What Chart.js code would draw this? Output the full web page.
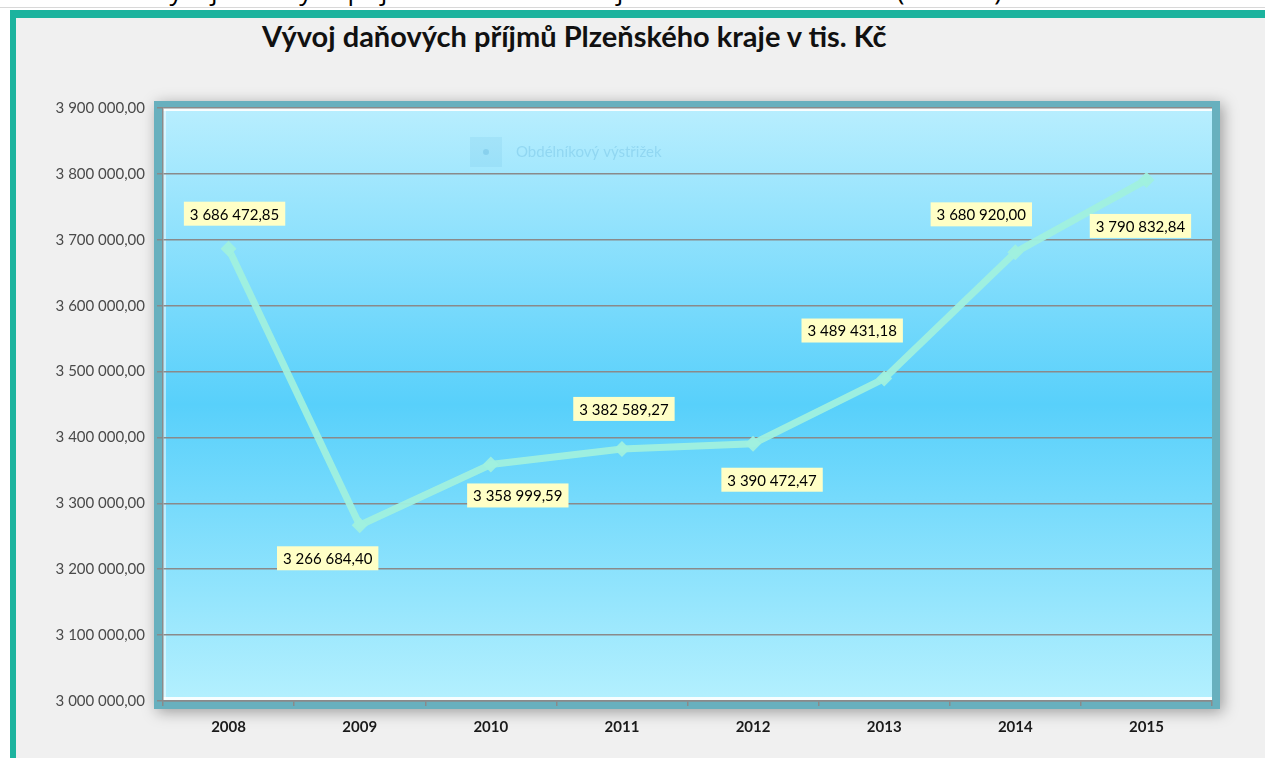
<!DOCTYPE html>
<html>
<head>
<meta charset="utf-8">
<script src="https://cdn.jsdelivr.net/npm/chart.js@4.4.1/dist/chart.umd.min.js"></script>
<style>
  html, body { margin: 0; padding: 0; background: #fff; overflow: hidden; }
  #page { position: relative; width: 1265px; height: 758px; }
  #cut { position: absolute; left: 0; top: 0; width: 1265px; height: 7px; overflow: hidden; border-bottom: 1px solid #d8d8d8; }
  #cut span { position: absolute; left: 40px; top: -28px; font: 26px "Open Sans", sans-serif; color: #000; white-space: nowrap; }
  #frame { position: absolute; left: 10px; top: 10px; right: 0; bottom: 0; background: #f0f0f0; border-top: 8px solid #1cb39e; border-left: 6px solid #1cb39e; }
  #title { position: absolute; left: 262px; top: 18px; font: bold 29px Lato, sans-serif; color: #111; white-space: nowrap; }
  canvas { position: absolute; left: 0; top: 0; }
</style>
</head>
<body>
<div id="page">
  <div id="cut"><span>Graf č. 1: Vývoj daňových příjmů Plzeňského kraje v letech 2008 – 2015 (v tis. Kč)</span></div>
  <div id="frame"></div>
  <div id="title">Vývoj daňových příjmů Plzeňského kraje v tis. Kč</div>
  <canvas id="chart" width="1265" height="758"></canvas>
</div>
<script>
// chart data
const years = ['2008', '2009', '2010', '2011', '2012', '2013', '2014', '2015'];
const income = [3686472.85, 3266684.40, 3358999.59, 3382589.27, 3390472.47, 3489431.18, 3680920.00, 3790832.84];
const yMin = 3000000;
const yMax = 3900000;
const yStep = 100000;

// where each value label sits relative to its point (dx, dy)
const labelOffsets = [[6, -35], [-32, 33], [27, 31], [2, -40], [19, 36], [-32, -48], [-34, -38], [-6, 46]];

const fmt = (v) => {
  const parts = v.toFixed(2).split('.');
  return parts[0].replace(/\B(?=(\d{3})+(?!\d))/g, ' ') + ',' + parts[1];
};

// plot background: framed panel with a blue gradient
const plotBackground = {
  id: 'plotBackground',
  beforeDraw(chart) {
    const { ctx, chartArea: a } = chart;
    ctx.save();
    ctx.shadowColor = 'rgba(0,0,0,0.35)';
    ctx.shadowBlur = 14;
    ctx.shadowOffsetX = 3;
    ctx.shadowOffsetY = 3;
    ctx.fillStyle = '#68b0be';
    ctx.fillRect(a.left - 9, a.top - 7, a.right - a.left + 17, a.bottom - a.top + 15);
    ctx.restore();

    ctx.save();
    const g = ctx.createLinearGradient(0, a.top, 0, a.bottom);
    g.addColorStop(0, '#b8eefe');
    g.addColorStop(0.5, '#58d0fb');
    g.addColorStop(1, '#b4f0fe');
    ctx.fillStyle = g;
    ctx.fillRect(a.left, a.top, a.right - a.left, a.bottom - a.top);
    ctx.fillStyle = 'rgba(255,255,255,0.9)';
    ctx.fillRect(a.left, a.top, a.right - a.left, 3);
    ctx.fillRect(a.left, a.bottom - 4, a.right - a.left, 4);
    ctx.fillStyle = 'rgba(255,255,255,0.5)';
    ctx.fillRect(a.left, a.top, 3, a.bottom - a.top);

    // faint leftover legend ("Obdélníkový výstřižek")
    ctx.fillStyle = 'rgba(80,170,210,0.12)';
    ctx.fillRect(470, 137, 32, 30);
    ctx.fillStyle = 'rgba(60,150,200,0.22)';
    ctx.beginPath();
    ctx.arc(486, 152, 3, 0, Math.PI * 2);
    ctx.fill();
    ctx.font = '15px Lato, sans-serif';
    ctx.textBaseline = 'middle';
    ctx.fillText('Obdélníkový výstřižek', 516, 152);
    ctx.restore();
  }
};

// yellow value labels
const valueLabels = {
  id: 'valueLabels',
  afterDatasetsDraw(chart) {
    const { ctx } = chart;
    const meta = chart.getDatasetMeta(0);
    ctx.save();
    ctx.font = '15px Lato, sans-serif';
    ctx.textAlign = 'center';
    ctx.textBaseline = 'middle';
    meta.data.forEach((pt, i) => {
      const txt = fmt(income[i]);
      const w = ctx.measureText(txt).width + 12;
      const h = 24;
      const cx = pt.x + labelOffsets[i][0];
      const cy = pt.y + labelOffsets[i][1];
      ctx.fillStyle = '#ffffc6';
      ctx.fillRect(cx - w / 2, cy - h / 2, w, h);
      ctx.fillStyle = '#000';
      ctx.fillText(txt, cx, cy + 1);
    });
    ctx.restore();
  }
};

new Chart(document.getElementById('chart').getContext('2d'), {
  type: 'line',
  data: {
    labels: years,
    datasets: [{
      label: 'Daňové příjmy',
      data: income,
      borderColor: 'rgba(160,240,222,0.95)',
      backgroundColor: 'rgba(160,240,222,0.95)',
      borderWidth: 7,
      pointStyle: 'rectRot',
      pointRadius: 8,
      pointHoverRadius: 8,
      pointBorderWidth: 0,
      tension: 0,
      fill: false
    }]
  },
  options: {
    responsive: false,
    animation: false,
    events: [],
    layout: { padding: { left: 0, top: 108, right: 53, bottom: 0 } },
    plugins: {
      legend: { display: false },
      title: { display: false },
      tooltip: { enabled: false }
    },
    scales: {
      x: {
        type: 'category',
        offset: true,
        grid: { offset: true, drawOnChartArea: false, drawTicks: true, tickLength: 5, color: '#8a8a8a', lineWidth: 1.5 },
        border: { display: true, color: '#8a8a8a', width: 1.5 },
        ticks: { color: '#1a1a1a', font: { family: 'Lato', size: 15, weight: 'bold' }, padding: 12, maxRotation: 0 },
        afterFit(scale) { scale.height = 57; }
      },
      y: {
        min: yMin,
        max: yMax,
        grid: { color: '#8a8a8a', lineWidth: 1.5, tickLength: 6 },
        border: { display: true, color: '#8a8a8a', width: 1.5 },
        ticks: {
          stepSize: yStep,
          color: '#4a4a4a',
          font: { family: 'Lato', size: 15 },
          padding: 12,
          callback: (v) => fmt(v)
        },
        afterFit(scale) { scale.width = 163; }
      }
    }
  },
  plugins: [plotBackground, valueLabels]
});
</script>
</body>
</html>
